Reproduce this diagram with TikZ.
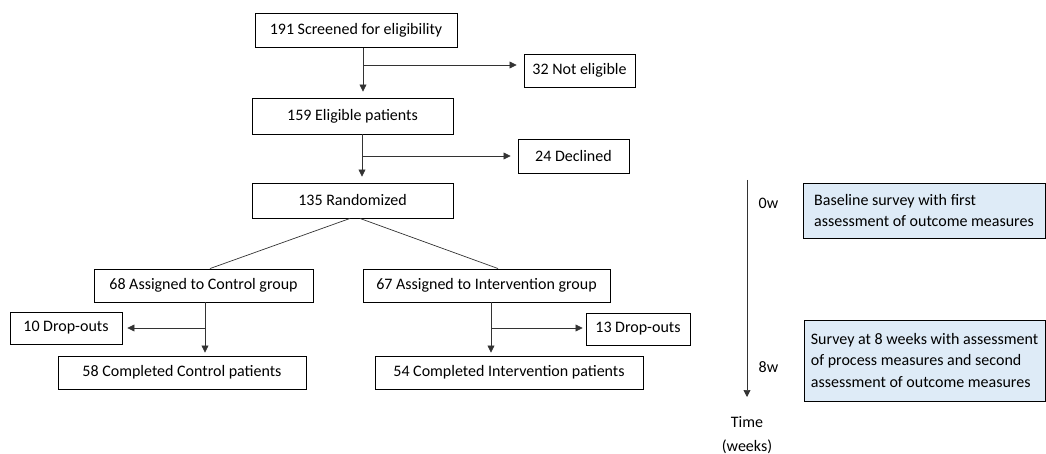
\documentclass[tikz,border=0pt]{standalone}
\usepackage{fontspec}
\setmainfont{Carlito}
\usepackage{tikz}
\usepackage{xcolor}
\usetikzlibrary{arrows.meta}
\definecolor{surveyblue}{RGB}{222,235,247}

\begin{document}
\begin{tikzpicture}[x=1pt, y={(0pt,-1pt)},
  box/.style={draw, line width=0.9pt, minimum height=34pt, inner sep=0pt, font=\fontsize{16}{19}\selectfont},
  survey/.style={box, fill=surveyblue, align=left, font=\fontsize{16}{21.5}\selectfont},
  line/.style={draw=black!80, line width=0.7pt},
  arr/.style={line, -{Triangle[length=7pt,width=7pt]}, shorten >=4pt},
  lab/.style={font=\fontsize{16}{24}\selectfont, align=center, inner sep=0pt}]
  \useasboundingbox (0,0) rectangle (1046,454);

  % flow of patients
  \node (S) [box, minimum width=202pt] at (356,30.5) {191 Screened for eligibility};
  \node (N) [box, minimum width=111pt, minimum height=33pt] at (579.5,70.5) {32 Not eligible};
  \node (E) [box, minimum width=201pt, minimum height=36pt] at (352.5,116) {159 Eligible patients};
  \node (D) [box, minimum width=111pt] at (573.5,156) {24 Declined};
  \node (R) [box, minimum width=201pt, minimum height=35pt] at (352.5,200.5) {135 Randomized};
  \node (C) [box, minimum width=219pt, minimum height=33pt] at (203.5,285.5) {68 Assigned to Control group};
  \node (I) [box, minimum width=247pt, minimum height=33pt] at (486.5,285.5) {67 Assigned to Intervention group};
  \node (DC) [box, minimum width=112pt, minimum height=32pt] at (66,328) {10 Drop-outs};
  \node (DI) [box, minimum width=104pt, minimum height=32pt] at (638,329) {13 Drop-outs};
  \node (FC) [box, minimum width=248pt, minimum height=33pt] at (182,372.5) {58 Completed Control patients};
  \node (FI) [box, minimum width=268pt, minimum height=33pt] at (509,372.5) {54 Completed Intervention patients};

  \coordinate (b1) at (363,65);
  \coordinate (b2) at (362,156);
  \coordinate (b3) at (205,328);
  \coordinate (b4) at (491,328);

  \draw[arr, shorten >=6pt] (S.south -| b1) -- (E.north -| b1);
  \draw[arr, shorten >=7pt] (b1) -- (b1 -| N.west);
  \draw[arr, shorten >=6pt] (E.south -| b2) -- (R.north -| b2);
  \draw[arr, shorten >=7pt] (b2) -- (D.west);
  \draw[line] ([xshift=-2.5pt]R.south) -- ([xshift=6.5pt]C.north);
  \draw[line] ([xshift=7.5pt]R.south) -- ([xshift=11.5pt]I.north);
  \draw[arr, shorten >=3pt] (C.south -| b3) -- (FC.north -| b3);
  \draw[arr, shorten >=5pt] (b3) -- (DC.east);
  \draw[arr, shorten >=3pt] (I.south -| b4) -- (FI.north -| b4);
  \draw[arr, shorten >=3pt] (b4) -- (b4 -| DI.west);

  % time line
  \node (P0) [survey, minimum width=242pt, minimum height=55pt] at (924,210.5)
    {Baseline survey with first\\assessment of outcome measures};
  \node (P8) [survey, minimum width=241pt, minimum height=81pt] at (924.5,360.5)
    {Survey at 8 weeks with assessment\\of process measures and second\\assessment of outcome measures};
  \coordinate (t0) at (747,180);
  \coordinate (t1) at (747,397);
  \draw[arr, shorten >=0pt] (t0) -- (t1);
  \node (W0) [lab] at (768.5,203) {0w};
  \node (W8) [lab] at (768.5,367) {8w};
  \node (T) [lab] at (747,435) {Time\\(weeks)};
\end{tikzpicture}
\end{document}
